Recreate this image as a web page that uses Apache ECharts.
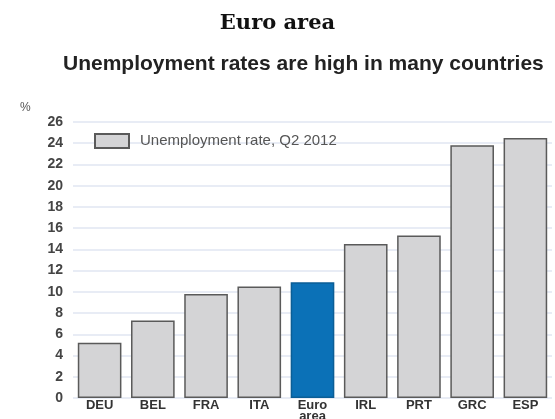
<!DOCTYPE html>
<html>
<head>
<meta charset="utf-8">
<script src="https://cdn.jsdelivr.net/npm/echarts@6/dist/echarts.min.js"></script>
<style>
  html, body { margin: 0; padding: 0; background: #fff; }
  #chart { width: 555px; height: 419px; }
</style>
</head>
<body>
<div id="chart"></div>
<script>
// categories and values (Q2 2012, %)
var countries = ['DEU', 'BEL', 'FRA', 'ITA', 'Euro\narea', 'IRL', 'PRT', 'GRC', 'ESP']
var rates = [5.2, 7.3, 9.8, 10.5, 10.9, 14.5, 15.3, 23.8, 24.5]
var highlight = 'Euro\narea'
var seriesName = 'Unemployment rate, Q2 2012'

var myChart = echarts.init(document.getElementById('chart'))

var barData = rates.map(function (v, i) {
  if (countries[i] === highlight) {
    return { value: v, itemStyle: { color: '#0b71b7', borderColor: '#0b5e96' } }
  }
  return v
})

myChart.setOption({
  animation: false,
  title: [
    {
      text: 'Euro area',
      left: 'center',
      top: 8,
      textStyle: { fontFamily: 'DejaVu Serif', fontWeight: 'bold', fontSize: 21, color: '#111' }
    },
    {
      text: 'Unemployment rates are high in many countries',
      left: 58,
      top: 49,
      textStyle: { fontFamily: 'Liberation Sans', fontWeight: 'bold', fontSize: 21, color: '#222' }
    },
    {
      text: '%',
      left: 15,
      top: 97,
      textStyle: { fontFamily: 'Liberation Sans', fontWeight: 'normal', fontSize: 12, color: '#555' }
    }
  ],
  legend: {
    left: 89,
    top: 128,
    itemWidth: 34,
    itemHeight: 14,
    icon: 'rect',
    data: [seriesName],
    textStyle: { fontFamily: 'Liberation Sans', fontSize: 15, color: '#555', padding: [0, 0, 0, 6] }
  },
  grid: {
    left: 73,
    right: 3,
    top: 122,
    bottom: 21,
    outerBoundsMode: 'none'
  },
  xAxis: {
    type: 'category',
    data: countries,
    axisTick: { show: false },
    axisLine: { show: false },
    axisLabel: {
      interval: 0,
      margin: 2,
      fontFamily: 'Liberation Sans',
      fontWeight: 'bold',
      fontSize: 13,
      lineHeight: 11,
      color: '#333'
    }
  },
  yAxis: {
    type: 'value',
    min: 0,
    max: 26,
    interval: 2,
    axisLine: { show: false },
    axisTick: { show: false },
    axisLabel: {
      margin: 10,
      fontFamily: 'Liberation Sans',
      fontWeight: 'bold',
      fontSize: 14,
      color: '#444'
    },
    splitLine: {
      show: true,
      lineStyle: { color: '#e1e6f2', width: 1.5 }
    }
  },
  series: [
    {
      name: seriesName,
      type: 'bar',
      data: barData,
      barCategoryGap: '18%',
      itemStyle: {
        color: '#d4d4d6',
        borderColor: '#5a5a5a',
        borderWidth: 1.5
      }
    }
  ]
})
</script>
</body>
</html>
